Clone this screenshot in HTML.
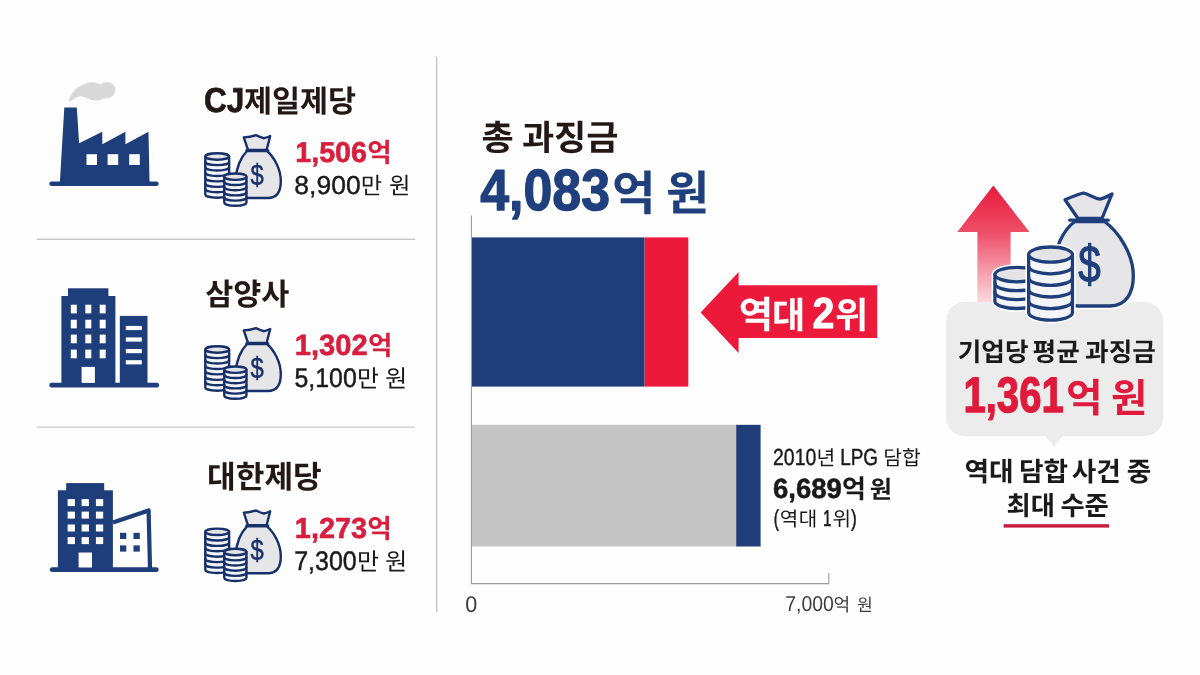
<!DOCTYPE html>
<html lang="ko">
<head>
<meta charset="utf-8">
<title>과징금 인포그래픽</title>
<style>
html,body{margin:0;padding:0;background:#fefefe}
body{width:1200px;height:675px;overflow:hidden;font-family:"Liberation Sans","Noto Sans CJK KR",sans-serif}
svg{display:block;will-change:transform}
text{font-family:"Liberation Sans","Noto Sans CJK KR",sans-serif;font-kerning:none;text-rendering:geometricPrecision;white-space:pre}
</style>
</head>
<body>
<svg width="1200" height="675" viewBox="0 0 1200 675">
<rect width="1200" height="675" fill="#fefefe"/>
<g stroke="#c9c9c9" stroke-width="1.4" fill="none"><path d="M36.8 239.3H415.2M36.8 427.1H415.2"/></g>
<path d="M436.7 56.7V612.4" stroke="#bdbdbd" stroke-width="1.2" fill="none"/>
<path d="M68.8 101.6C69.5 97.5 71 94.5 73.5 91.5C76 88 80 85.5 84 84.5C87 82.5 91 81.8 94.5 82.6C97 83 99.5 84 101 84.4C103 82.6 106 81.8 108.5 82.2C113 83 116 86.5 115.3 90C115 93.5 113.5 96 111 97.2C108 98.6 105.5 98.2 103.5 98.6C101.5 100 98.5 101 96 100.6C93 100.4 90 99.6 87.5 98.4C85 97 82.5 96 80.5 96.2C77.5 96.6 75 98.2 73 99.8C71.5 101 70 101.8 68.8 101.6Z" fill="#d8d8d8"/>
<g fill="#1e3d7b"><path d="M64.3 107.6H76.8L79.1 143.2L102.3 131.7V144.2L125.4 131.7V144.2L148.5 131.7L149.5 182H59.9Z"/><rect x="49.3" y="181.4" width="109.4" height="4.7" rx="2.3"/></g>
<g fill="#fefefe"><rect x="86.5" y="154.2" width="10.5" height="10.8"/><rect x="107.6" y="154.2" width="10.6" height="10.8"/><rect x="129.2" y="154.2" width="10.6" height="10.8"/></g>
<g fill="#1e3d7b"><rect x="68" y="288.3" width="40.4" height="9"/><rect x="61.4" y="296" width="54" height="88"/><rect x="119.8" y="315.9" width="27.7" height="68"/><rect x="49.3" y="382.8" width="109.8" height="4.7" rx="2.3"/></g>
<g fill="#fefefe"><rect x="70.8" y="304.7" width="6" height="8.7"/><rect x="70.8" y="319.7" width="6" height="8.7"/><rect x="70.8" y="334.6" width="6" height="8.7"/><rect x="70.8" y="349.6" width="6" height="8.7"/><rect x="85.3" y="304.7" width="6" height="8.7"/><rect x="85.3" y="319.7" width="6" height="8.7"/><rect x="85.3" y="334.6" width="6" height="8.7"/><rect x="85.3" y="349.6" width="6" height="8.7"/><rect x="99.7" y="304.7" width="6" height="8.7"/><rect x="99.7" y="319.7" width="6" height="8.7"/><rect x="99.7" y="334.6" width="6" height="8.7"/><rect x="99.7" y="349.6" width="6" height="8.7"/><rect x="81.6" y="366.9" width="13.3" height="16"/><rect x="125.8" y="325.9" width="16" height="4.2"/><rect x="125.8" y="337.4" width="16" height="4.2"/><rect x="125.8" y="349" width="16" height="4.2"/><rect x="125.8" y="360.2" width="16" height="4.2"/></g>
<g fill="#1e3d7b"><rect x="66.2" y="483.1" width="38" height="8"/><rect x="57.9" y="490.3" width="55" height="78"/><rect x="49.8" y="567.3" width="108.9" height="4.8" rx="2.4"/></g>
<path d="M112.9 522.4L148.6 510.4L150 568" fill="none" stroke="#1e3d7b" stroke-width="4.2" stroke-linejoin="round" stroke-linecap="butt"/>
<g fill="#fefefe"><rect x="67.6" y="499.1" width="7.3" height="7"/><rect x="67.6" y="511.6" width="7.3" height="7"/><rect x="67.6" y="524.5" width="7.3" height="7"/><rect x="67.6" y="537.1" width="7.3" height="7"/><rect x="81.6" y="499.1" width="7.3" height="7"/><rect x="81.6" y="511.6" width="7.3" height="7"/><rect x="81.6" y="524.5" width="7.3" height="7"/><rect x="81.6" y="537.1" width="7.3" height="7"/><rect x="95.9" y="499.1" width="7.3" height="7"/><rect x="95.9" y="511.6" width="7.3" height="7"/><rect x="95.9" y="524.5" width="7.3" height="7"/><rect x="95.9" y="537.1" width="7.3" height="7"/><rect x="78.6" y="552.5" width="13.4" height="15"/></g>
<g fill="#1e3d7b"><rect x="120" y="532.8" width="6.3" height="6.2"/><rect x="120" y="545.4" width="6.3" height="6.2"/><rect x="133.5" y="532.8" width="6.3" height="6.2"/><rect x="133.5" y="545.4" width="6.3" height="6.2"/></g>
<g transform="translate(0 0)"><g stroke="#17306a" stroke-width="2.4" stroke-linejoin="round" stroke-linecap="round"><path d="M247 151C241 157 235.8 168 235.8 180C235.8 191 240 198 249 198H268C277 198 280.8 191 280.8 181C280.8 169 274 157 267 151Z" fill="#e6e6e8"/><path d="M248 150L243.8 137.4Q250 137.2 256 135.2Q261 137.6 264 138.2Q267.6 137.4 270.2 136L266.6 150Z" fill="#e6e6e8"/><path d="M246.4 150.4H268.2" fill="none"/></g><text transform="translate(250.54 184.94) scale(0.8030 1)" font-size="29.65" fill="#17306a" stroke="#17306a" stroke-width="0.5" stroke-linejoin="round">$</text><g stroke="#17306a" stroke-width="2.4" stroke-linejoin="round" stroke-linecap="round"><path d="M205.3 156.5V194.51A11.9 3.2 0 0 0 229.1 194.51V156.5Z" fill="#f3f5f9"/><path d="M205.3 161.93A11.9 3.2 0 0 0 229.1 161.93" fill="none"/><path d="M205.3 167.36A11.9 3.2 0 0 0 229.1 167.36" fill="none"/><path d="M205.3 172.79A11.9 3.2 0 0 0 229.1 172.79" fill="none"/><path d="M205.3 178.22A11.9 3.2 0 0 0 229.1 178.22" fill="none"/><path d="M205.3 183.65A11.9 3.2 0 0 0 229.1 183.65" fill="none"/><path d="M205.3 189.08A11.9 3.2 0 0 0 229.1 189.08" fill="none"/><ellipse cx="217.2" cy="156.5" rx="11.9" ry="3.2" fill="#e4e4e6"/></g><g stroke="#17306a" stroke-width="2.4" stroke-linejoin="round" stroke-linecap="round"><path d="M224.25 176.7V202.55A11.1 3.2 0 0 0 246.45 202.55V176.7Z" fill="#f3f5f9"/><path d="M224.25 181.87A11.1 3.2 0 0 0 246.45 181.87" fill="none"/><path d="M224.25 187.04A11.1 3.2 0 0 0 246.45 187.04" fill="none"/><path d="M224.25 192.21A11.1 3.2 0 0 0 246.45 192.21" fill="none"/><path d="M224.25 197.38A11.1 3.2 0 0 0 246.45 197.38" fill="none"/><ellipse cx="235.35" cy="176.7" rx="11.1" ry="3.2" fill="#e4e4e6"/></g></g>
<g transform="translate(0 193)"><g stroke="#17306a" stroke-width="2.4" stroke-linejoin="round" stroke-linecap="round"><path d="M247 151C241 157 235.8 168 235.8 180C235.8 191 240 198 249 198H268C277 198 280.8 191 280.8 181C280.8 169 274 157 267 151Z" fill="#e6e6e8"/><path d="M248 150L243.8 137.4Q250 137.2 256 135.2Q261 137.6 264 138.2Q267.6 137.4 270.2 136L266.6 150Z" fill="#e6e6e8"/><path d="M246.4 150.4H268.2" fill="none"/></g><text transform="translate(250.54 184.94) scale(0.8030 1)" font-size="29.65" fill="#17306a" stroke="#17306a" stroke-width="0.5" stroke-linejoin="round">$</text><g stroke="#17306a" stroke-width="2.4" stroke-linejoin="round" stroke-linecap="round"><path d="M205.3 156.5V194.51A11.9 3.2 0 0 0 229.1 194.51V156.5Z" fill="#f3f5f9"/><path d="M205.3 161.93A11.9 3.2 0 0 0 229.1 161.93" fill="none"/><path d="M205.3 167.36A11.9 3.2 0 0 0 229.1 167.36" fill="none"/><path d="M205.3 172.79A11.9 3.2 0 0 0 229.1 172.79" fill="none"/><path d="M205.3 178.22A11.9 3.2 0 0 0 229.1 178.22" fill="none"/><path d="M205.3 183.65A11.9 3.2 0 0 0 229.1 183.65" fill="none"/><path d="M205.3 189.08A11.9 3.2 0 0 0 229.1 189.08" fill="none"/><ellipse cx="217.2" cy="156.5" rx="11.9" ry="3.2" fill="#e4e4e6"/></g><g stroke="#17306a" stroke-width="2.4" stroke-linejoin="round" stroke-linecap="round"><path d="M224.25 176.7V202.55A11.1 3.2 0 0 0 246.45 202.55V176.7Z" fill="#f3f5f9"/><path d="M224.25 181.87A11.1 3.2 0 0 0 246.45 181.87" fill="none"/><path d="M224.25 187.04A11.1 3.2 0 0 0 246.45 187.04" fill="none"/><path d="M224.25 192.21A11.1 3.2 0 0 0 246.45 192.21" fill="none"/><path d="M224.25 197.38A11.1 3.2 0 0 0 246.45 197.38" fill="none"/><ellipse cx="235.35" cy="176.7" rx="11.1" ry="3.2" fill="#e4e4e6"/></g></g>
<g transform="translate(0 375.3)"><g stroke="#17306a" stroke-width="2.4" stroke-linejoin="round" stroke-linecap="round"><path d="M247 151C241 157 235.8 168 235.8 180C235.8 191 240 198 249 198H268C277 198 280.8 191 280.8 181C280.8 169 274 157 267 151Z" fill="#e6e6e8"/><path d="M248 150L243.8 137.4Q250 137.2 256 135.2Q261 137.6 264 138.2Q267.6 137.4 270.2 136L266.6 150Z" fill="#e6e6e8"/><path d="M246.4 150.4H268.2" fill="none"/></g><text transform="translate(250.54 184.94) scale(0.8030 1)" font-size="29.65" fill="#17306a" stroke="#17306a" stroke-width="0.5" stroke-linejoin="round">$</text><g stroke="#17306a" stroke-width="2.4" stroke-linejoin="round" stroke-linecap="round"><path d="M205.3 156.5V194.51A11.9 3.2 0 0 0 229.1 194.51V156.5Z" fill="#f3f5f9"/><path d="M205.3 161.93A11.9 3.2 0 0 0 229.1 161.93" fill="none"/><path d="M205.3 167.36A11.9 3.2 0 0 0 229.1 167.36" fill="none"/><path d="M205.3 172.79A11.9 3.2 0 0 0 229.1 172.79" fill="none"/><path d="M205.3 178.22A11.9 3.2 0 0 0 229.1 178.22" fill="none"/><path d="M205.3 183.65A11.9 3.2 0 0 0 229.1 183.65" fill="none"/><path d="M205.3 189.08A11.9 3.2 0 0 0 229.1 189.08" fill="none"/><ellipse cx="217.2" cy="156.5" rx="11.9" ry="3.2" fill="#e4e4e6"/></g><g stroke="#17306a" stroke-width="2.4" stroke-linejoin="round" stroke-linecap="round"><path d="M224.25 176.7V202.55A11.1 3.2 0 0 0 246.45 202.55V176.7Z" fill="#f3f5f9"/><path d="M224.25 181.87A11.1 3.2 0 0 0 246.45 181.87" fill="none"/><path d="M224.25 187.04A11.1 3.2 0 0 0 246.45 187.04" fill="none"/><path d="M224.25 192.21A11.1 3.2 0 0 0 246.45 192.21" fill="none"/><path d="M224.25 197.38A11.1 3.2 0 0 0 246.45 197.38" fill="none"/><ellipse cx="235.35" cy="176.7" rx="11.1" ry="3.2" fill="#e4e4e6"/></g></g>
<g role="text" aria-label="CJ제일제당"><text transform="translate(203.95 111.8) scale(0.9099 1)" font-size="34.7" font-weight="700" fill="#231815" stroke="#231815" stroke-width="0.76" stroke-linejoin="round">CJ</text><text x="243.9" y="112.4" font-size="30.5" font-weight="700" fill="#231815">제일제당</text></g>
<g role="text" aria-label="1,506억"><text transform="translate(295.18 162.3) scale(0.9972 1)" font-size="28.8" font-weight="700" fill="#d81e3f" stroke="#d81e3f" stroke-width="0.58" stroke-linejoin="round">1,506</text><text x="367.3" y="162.3" font-size="26.5" font-weight="700" fill="#d81e3f">억</text></g>
<g role="text" aria-label="8,900만 원"><text transform="translate(294.36 193.7) scale(1.0185 1)" font-size="26" fill="#1a1a1a" stroke="#1a1a1a" stroke-width="0.41" stroke-linejoin="round">8,900</text><text x="360.8" y="193.7" font-size="23.3" fill="#1a1a1a">만</text><text x="389" y="193.7" font-size="23.3" fill="#1a1a1a">원</text></g>
<text x="205.2" y="304.5" font-size="30.5" font-weight="700" fill="#231815">삼양사</text>
<g role="text" aria-label="1,302억"><text transform="translate(294.86 355.4) scale(0.9896 1)" font-size="29.4" font-weight="700" fill="#d81e3f" stroke="#d81e3f" stroke-width="0.59" stroke-linejoin="round">1,302</text><text x="367.9" y="355.4" font-size="26.6" font-weight="700" fill="#d81e3f">억</text></g>
<g role="text" aria-label="5,100만 원"><text transform="translate(294.52 386.8) scale(0.9280 1)" font-size="26.8" fill="#1a1a1a" stroke="#1a1a1a" stroke-width="0.46" stroke-linejoin="round">5,100</text><text x="357" y="386.8" font-size="23.9" fill="#1a1a1a">만</text><text x="385.2" y="386.8" font-size="23.8" fill="#1a1a1a">원</text></g>
<text x="207" y="488" font-size="31.2" font-weight="700" fill="#231815">대한제당</text>
<g role="text" aria-label="1,273억"><text transform="translate(294.87 538.4) scale(0.9912 1)" font-size="29.1" font-weight="700" fill="#d81e3f" stroke="#d81e3f" stroke-width="0.59" stroke-linejoin="round">1,273</text><text x="367.3" y="538.4" font-size="26.6" font-weight="700" fill="#d81e3f">억</text></g>
<g role="text" aria-label="7,300만 원"><text transform="translate(294.23 569.8) scale(0.9323 1)" font-size="26.8" fill="#1a1a1a" stroke="#1a1a1a" stroke-width="0.46" stroke-linejoin="round">7,300</text><text x="357" y="569.8" font-size="23.9" fill="#1a1a1a">만</text><text x="385.2" y="569.8" font-size="23.8" fill="#1a1a1a">원</text></g>
<rect x="472" y="237.4" width="172.6" height="149.2" fill="#1e3d79"/>
<rect x="644.6" y="237.4" width="43.7" height="149.2" fill="#ec193b"/>
<rect x="472" y="424.8" width="264.2" height="121.7" fill="#c5c5c5"/>
<rect x="736.2" y="424.8" width="24.4" height="121.7" fill="#1e3d79"/>
<path d="M471.4 215.5V583.6H828.8V573.1" fill="none" stroke="#9c9c9c" stroke-width="1.1"/>
<path d="M700.6 312.5L738.6 272.1V285.3H877.2V338.1H738.6V352.9Z" fill="#ec193b"/>
<g role="text" aria-label="총 과징금"><text x="481.5" y="149.7" font-size="35" font-weight="700" fill="#231815">총</text><text x="521.9" y="149.7" font-size="35" font-weight="700" fill="#231815">과징금</text></g>
<g role="text" aria-label="4,083억 원"><text transform="translate(480.19 210.2) scale(0.8950 1)" font-size="58" font-weight="700" fill="#1f3f7d" stroke="#1f3f7d" stroke-width="1.3" stroke-linejoin="round">4,083</text><text x="611.9" y="210.2" font-size="47.3" font-weight="700" fill="#1f3f7d">억</text><text x="666" y="210.2" font-size="47" font-weight="700" fill="#1f3f7d">원</text></g>
<g role="text" aria-label="역대 2위"><text x="738.75" y="327.8" font-size="37.3" font-weight="700" fill="#fff">역</text><text x="772" y="327.8" font-size="36.15" font-weight="700" fill="#fff">대</text><text transform="translate(812.47 327.8) scale(0.9085 1)" font-size="43.4" font-weight="700" fill="#fff" stroke="#fff" stroke-width="0.96" stroke-linejoin="round">2</text><text x="835" y="327.8" font-size="36.15" font-weight="700" fill="#fff">위</text></g>
<g role="text" aria-label="2010년 LPG 담합"><text transform="translate(773.01 465.2) scale(0.8383 1)" font-size="23.2" fill="#1a1a1a" stroke="#1a1a1a" stroke-width="0.44" stroke-linejoin="round">2010</text><text x="816.4" y="465.2" font-size="20.4" fill="#1a1a1a">년</text><text transform="translate(840.13 465.2) scale(0.8164 1)" font-size="23.2" fill="#1a1a1a" stroke="#1a1a1a" stroke-width="0.45" stroke-linejoin="round">LPG</text><text x="883.2" y="465.2" font-size="20.4" fill="#1a1a1a">담합</text></g>
<g role="text" aria-label="6,689억 원"><text transform="translate(772.97 498.2) scale(0.9885 1)" font-size="27.8" font-weight="700" fill="#1a1a1a" stroke="#1a1a1a" stroke-width="0.56" stroke-linejoin="round">6,689</text><text x="842.1" y="498.2" font-size="26" font-weight="700" fill="#1a1a1a">억</text><text x="869.8" y="498.2" font-size="24.2" font-weight="700" fill="#1a1a1a">원</text></g>
<g role="text" aria-label="(역대 1위)"><text transform="translate(773.82 525.8) scale(0.6712 1)" font-size="23.2" fill="#1a1a1a" stroke="#1a1a1a" stroke-width="0.55" stroke-linejoin="round">(</text><text x="779.8" y="525.8" font-size="20.1" fill="#1a1a1a">역</text><text x="798.8" y="525.8" font-size="20.1" fill="#1a1a1a">대</text><text transform="translate(823.11 525.8) scale(0.6750 1)" font-size="22.8" fill="#1a1a1a" stroke="#1a1a1a" stroke-width="0.54" stroke-linejoin="round">1</text><text x="832.5" y="525.8" font-size="20.1" fill="#1a1a1a">위</text><text transform="translate(850.88 525.8) scale(0.7525 1)" font-size="23.2" fill="#1a1a1a" stroke="#1a1a1a" stroke-width="0.49" stroke-linejoin="round">)</text></g>
<text transform="translate(465.16 611.5) scale(0.9534 1)" font-size="22.6" fill="#3c3c3c">0</text>
<g role="text" aria-label="7,000억 원"><text transform="translate(785.25 611.25) scale(0.9034 1)" font-size="21.5" fill="#3c3c3c">7,000</text><text x="833.5" y="611.25" font-size="18.1" fill="#3c3c3c">억</text><text x="856.9" y="611.25" font-size="17.15" fill="#3c3c3c">원</text></g>
<defs><linearGradient id="ga" x1="0" y1="0" x2="0" y2="1"><stop offset="0" stop-color="#e8193c"/><stop offset=".4" stop-color="#ee4f68"/><stop offset=".75" stop-color="#f5a3b0"/><stop offset="1" stop-color="#fbdde1"/></linearGradient></defs>
<path d="M993.3 185.4L1029.5 232.1H1010.6V304H977.4V232.1H957.3Z" fill="url(#ga)"/>
<path d="M965 302H1144.3A19 19 0 0 1 1163.3 321V417.3A19 19 0 0 1 1144.3 436.3H1062.7L1054 446.8L1045.3 436.3H965A19 19 0 0 1 946 417.3V321A19 19 0 0 1 965 302Z" fill="#ebeceb"/>
<g stroke="#fff" stroke-width="6.5" stroke-linejoin="round" stroke-linecap="round" fill="#fff"><path d="M1075 221.5C1064 229 1053.6 248 1053.4 272C1053.2 294 1062 306 1078 306H1110C1126 306 1133.6 293 1133.3 275C1133 254 1119 232 1104.5 221.5Z"/><path d="M1078 218.5L1065 199.8C1071 197.2 1077 194.6 1083.4 193C1089 194.2 1094 198.2 1100 199.2C1104 198.2 1108 196.2 1112 194L1102 218.5Z"/></g><g stroke="#1f3e7c" stroke-width="3.3" stroke-linejoin="round" stroke-linecap="round"><path d="M1075 221.5C1064 229 1053.6 248 1053.4 272C1053.2 294 1062 306 1078 306H1110C1126 306 1133.6 293 1133.3 275C1133 254 1119 232 1104.5 221.5Z" fill="#e6e6e8"/><path d="M1078 218.5L1065 199.8C1071 197.2 1077 194.6 1083.4 193C1089 194.2 1094 198.2 1100 199.2C1104 198.2 1108 196.2 1112 194L1102 218.5Z" fill="#e6e6e8"/><path d="M1069.8 220.2H1108.2" fill="none"/></g><text transform="translate(1078.27 281.98) scale(0.7738 1)" font-size="52.25" fill="#1f3e7c" stroke="#1f3e7c" stroke-width="1.16" stroke-linejoin="round">$</text><g stroke="#fff" stroke-width="6.5" stroke-linejoin="round" stroke-linecap="round" fill="#fff"><path d="M994.9 274.6V301.3A21.9 7.2 0 0 0 1038.7 301.3V274.6Z"/><ellipse cx="1016.8" cy="274.6" rx="21.9" ry="7.2"/></g><g stroke="#1f3e7c" stroke-width="3.3" stroke-linejoin="round" stroke-linecap="round"><path d="M994.9 274.6V301.3A21.9 7.2 0 0 0 1038.7 301.3V274.6Z" fill="#f3f5f9"/><path d="M994.9 283.5A21.9 7.2 0 0 0 1038.7 283.5" fill="none"/><path d="M994.9 292.4A21.9 7.2 0 0 0 1038.7 292.4" fill="none"/><ellipse cx="1016.8" cy="274.6" rx="21.9" ry="7.2" fill="#e4e4e6"/></g><g stroke="#fff" stroke-width="6.5" stroke-linejoin="round" stroke-linecap="round" fill="#fff"><path d="M1028.65 254.6V312.6A21.9 7.6 0 0 0 1072.45 312.6V254.6Z"/><ellipse cx="1050.55" cy="254.6" rx="21.9" ry="7.6"/></g><g stroke="#1f3e7c" stroke-width="3.3" stroke-linejoin="round" stroke-linecap="round"><path d="M1028.65 254.6V312.6A21.9 7.6 0 0 0 1072.45 312.6V254.6Z" fill="#f3f5f9"/><path d="M1028.65 266.2A21.9 7.6 0 0 0 1072.45 266.2" fill="none"/><path d="M1028.65 277.8A21.9 7.6 0 0 0 1072.45 277.8" fill="none"/><path d="M1028.65 289.4A21.9 7.6 0 0 0 1072.45 289.4" fill="none"/><path d="M1028.65 301A21.9 7.6 0 0 0 1072.45 301" fill="none"/><ellipse cx="1050.55" cy="254.6" rx="21.9" ry="7.6" fill="#e4e4e6"/></g>
<g role="text" aria-label="기업당 평균 과징금"><text x="957.8" y="361.1" font-size="25.6" font-weight="700" fill="#1a1a1a">기업당</text><text x="1032.6" y="361.1" font-size="25.6" font-weight="700" fill="#1a1a1a">평균</text><text x="1085.1" y="361.1" font-size="25.6" font-weight="700" fill="#1a1a1a">과징금</text></g>
<g role="text" aria-label="1,361억 원"><text transform="translate(963.48 411.6) scale(0.7992 1)" font-size="50.1" font-weight="700" fill="#df1a3c" stroke="#df1a3c" stroke-width="1.25" stroke-linejoin="round">1,361</text><text x="1066" y="411.6" font-size="39.7" font-weight="700" fill="#df1a3c">억</text><text x="1111" y="411.6" font-size="39.5" font-weight="700" fill="#df1a3c">원</text></g>
<g role="text" aria-label="역대 담합 사건 중"><text x="964.5" y="480.6" font-size="26.7" font-weight="700" fill="#1a1a1a">역대</text><text x="1019" y="480.6" font-size="26.7" font-weight="700" fill="#1a1a1a">담합</text><text x="1071.7" y="480.6" font-size="26.7" font-weight="700" fill="#1a1a1a">사건</text><text x="1126.8" y="480.6" font-size="26.7" font-weight="700" fill="#1a1a1a">중</text></g>
<g role="text" aria-label="최대 수준"><text x="1006.6" y="515.2" font-size="26.3" font-weight="700" fill="#1a1a1a">최대</text><text x="1060.4" y="515.2" font-size="26.3" font-weight="700" fill="#1a1a1a">수준</text></g>
<rect x="1003.6" y="524.2" width="105.4" height="3.4" fill="#c8193c"/>
</svg>
</body>
</html>
